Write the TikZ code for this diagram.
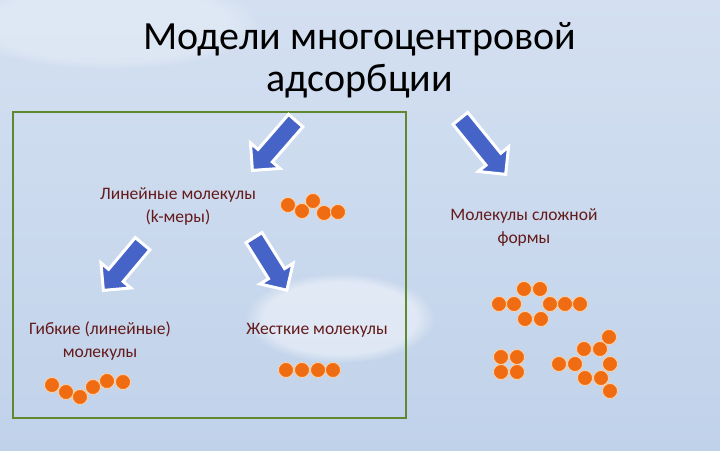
\documentclass[tikz,border=0pt]{standalone}
\usepackage{fontspec}
\setmainfont{Carlito}
\usepackage{tikz}
\usetikzlibrary{shapes.arrows, positioning, fadings}
\definecolor{bgtop}{RGB}{212,224,241}
\definecolor{bgbot}{RGB}{192,210,234}
\definecolor{boxgreen}{RGB}{96,136,46}
\definecolor{arrowblue}{RGB}{70,100,200}
\definecolor{ballorange}{RGB}{240,108,18}
\definecolor{txtred}{RGB}{100,26,26}
\tikzset{
  ball/.style={fill=ballorange, draw=orange!35, line width=0.8pt},
  bigarrow/.style={single arrow, fill=arrowblue, draw=white, line width=3pt,
    inner xsep=0pt, inner ysep=8pt, single arrow head extend=10pt, anchor=tip},
  lbl/.style={text=txtred, font=\fontsize{17.5}{23}\selectfont, align=center}
}

\begin{document}
\begin{tikzpicture}[x=1pt, y=-1pt]
        \useasboundingbox (0,0) rectangle (720,450);
        % background
        \shade[top color=bgtop, bottom color=bgbot] (0,0) rectangle (720,450);
        \fill[white, opacity=0.45, path fading=circle with fuzzy edge 20 percent]
            (340,318) ellipse (95pt and 45pt);
        \fill[white, opacity=0.25, path fading=circle with fuzzy edge 20 percent]
            (110,25) ellipse (150pt and 45pt);
        % title
        \node[font=\fontsize{40}{42}\selectfont, align=center] (title) at (360,60)
            {Модели многоцентровой\\адсорбции};
        % frame for linear molecules
        \draw[boxgreen, line width=2pt] (13,112) rectangle (406,418);
        % arrows
        \node[bigarrow, minimum height=66pt, rotate=229] (arrLin) at (251,172) {};
        \node[bigarrow, minimum height=72pt, rotate=-51] (arrCompl) at (507,176) {};
        \node[bigarrow, minimum height=61pt, rotate=230] (arrFlex) at (102,292) {};
        \node[bigarrow, minimum height=62pt, rotate=-58] (arrRigid) at (288,292) {};
        % labels
        \node[lbl] (linear) at (178,206) {Линейные молекулы\\(k-меры)};
        \node[lbl] (complex) at (524,228) {Молекулы сложной\\формы};
        \node[lbl] (flexible) at (100,341) {Гибкие (линейные)\\молекулы};
        \node[lbl] (rigid) at (317,330) {Жесткие молекулы};
        % k-mer chain
        \foreach \x/\y in {288/205, 302/211, 313/201, 324/213, 338/212}
        \draw[ball] (\x,\y) circle (7.5pt);
        % flexible chain
        \foreach \x/\y in {52/385, 66/392, 80/397, 93/387, 107/381, 123/382}
        \draw[ball] (\x,\y) circle (7.5pt);
        % rigid chain
        \foreach \x in {286,302,318,333}
        \draw[ball] (\x,370) circle (7.5pt);
        % complex shapes
        \foreach \x/\y in {524/289, 540/289, 499/304, 514/304, 550/304, 565/304, 580/304, 525/319, 541/319}
        \draw[ball] (\x,\y) circle (7.5pt);
        \foreach \x/\y in {501/357, 517/357, 501/372, 517/372}
        \draw[ball] (\x,\y) circle (7.5pt);
        \foreach \x/\y in {609/337, 584/349, 600/349, 559/364, 575/364, 610/364, 585/378, 601/378, 610/391}
        \draw[ball] (\x,\y) circle (7.5pt);
\end{tikzpicture}
\end{document}
